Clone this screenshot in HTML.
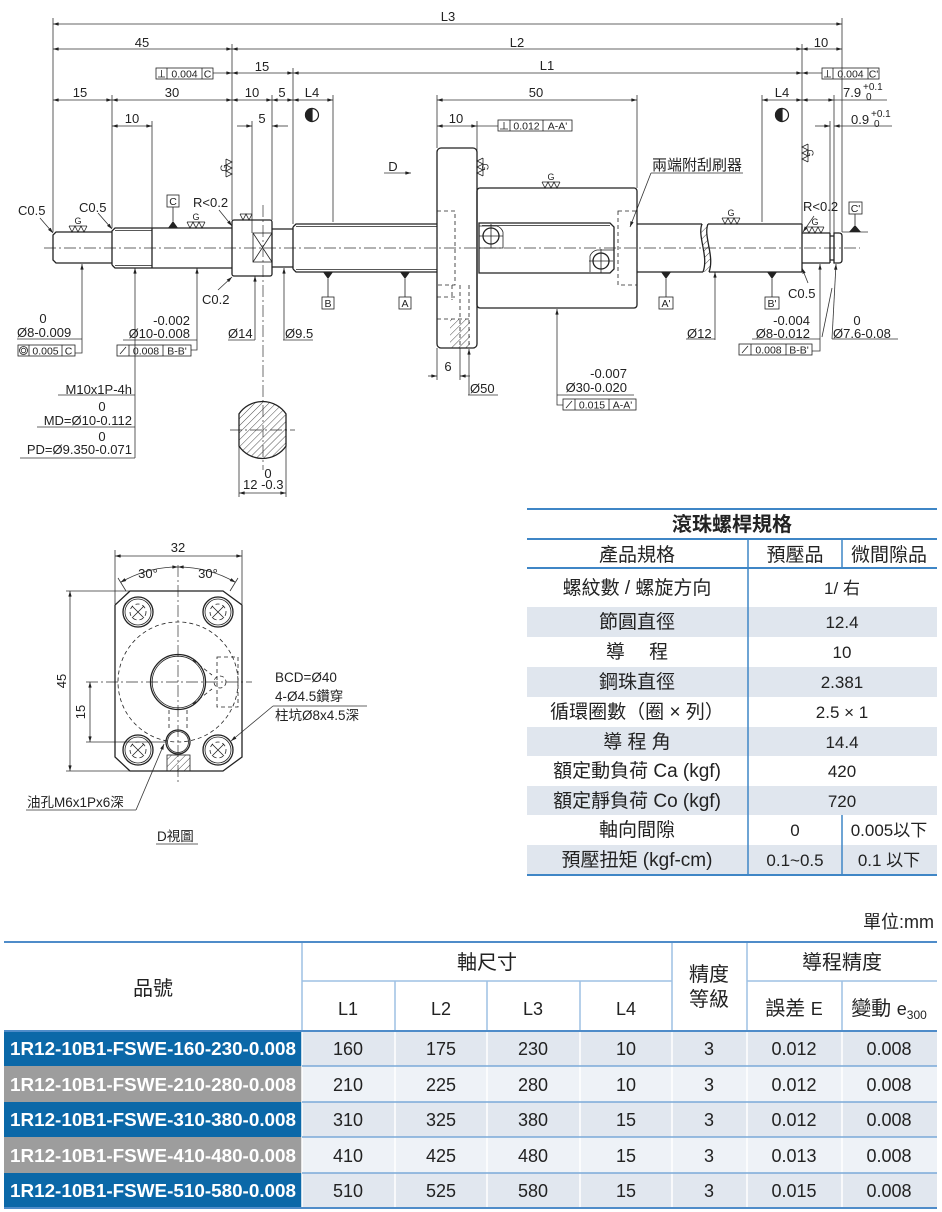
<!DOCTYPE html>
<html><head><meta charset="utf-8"><title>Ball screw drawing</title>
<style>
html,body{margin:0;padding:0;background:#fff;width:942px;height:1212px;overflow:hidden}
svg{display:block}
text{font-family:"Liberation Sans","Noto Sans CJK TC",sans-serif;fill:#222}
</style></head><body>
<svg width="942" height="1212" viewBox="0 0 942 1212" xmlns="http://www.w3.org/2000/svg">
<defs>
<marker id="a" viewBox="0 0 10 6" refX="10" refY="3" markerWidth="7" markerHeight="3.4" orient="auto-start-reverse" markerUnits="userSpaceOnUse"><path d="M0,0L10,3L0,6z" fill="#222"/></marker>
<pattern id="h" width="5" height="5" patternUnits="userSpaceOnUse" patternTransform="rotate(45)"><line x1="0" y1="0" x2="0" y2="5" stroke="#222" stroke-width="0.8"/></pattern>
</defs>

<!-- ================= TOP DRAWING ================= -->
<!-- extension lines -->
<g stroke="#333" stroke-width="0.8" fill="none">
<path d="M53,18V232 M232,44V220 M802,44V233 M842,18V232 M293,68V224 M112,95V228 M152,121V228 M272,95V220 M252,121V233 M333,95V222 M437,95V148 M477,121V150 M637,95V188 M762,95V222 M830,121V236 M834,95V233"/>
<path d="M437,348V380 M460,348V380 M239,440V497 M286,440V497"/>
<path d="M834,100H887 M842,232H868"/>
</g>
<!-- dimension lines both arrows -->
<g stroke="#333" stroke-width="0.8" fill="none" marker-start="url(#a)" marker-end="url(#a)">
<line x1="53" y1="24" x2="842" y2="24"/>
<line x1="53" y1="49" x2="232" y2="49"/>
<line x1="232" y1="49" x2="802" y2="49"/>
<line x1="802" y1="49" x2="842" y2="49"/>
<line x1="232" y1="73" x2="293" y2="73"/>
<line x1="293" y1="73" x2="802" y2="73"/>
<line x1="53" y1="100" x2="112" y2="100"/>
<line x1="112" y1="100" x2="232" y2="100"/>
<line x1="232" y1="100" x2="272" y2="100"/>
<line x1="272" y1="100" x2="293" y2="100"/>
<line x1="293" y1="100" x2="333" y2="100"/>
<line x1="437" y1="100" x2="637" y2="100"/>
<line x1="762" y1="100" x2="802" y2="100"/>
<line x1="802" y1="100" x2="834" y2="100"/>
<line x1="112" y1="126" x2="152" y2="126"/>
<line x1="437" y1="126" x2="477" y2="126"/>
<line x1="239" y1="493" x2="286" y2="493"/>
<line x1="115" y1="556" x2="242" y2="556"/>
<line x1="70" y1="591" x2="70" y2="771"/>
<line x1="90" y1="682" x2="90" y2="742"/>
<path d="M178,567 A115,115 0 0 0 120.5,582.4"/>
<path d="M178,567 A115,115 0 0 1 235.5,582.4"/>
</g>
<!-- single arrows -->
<g stroke="#333" stroke-width="0.8" fill="none" marker-end="url(#a)">
<line x1="213" y1="73" x2="232" y2="73"/>
<line x1="822" y1="73" x2="802" y2="73"/>
<line x1="237" y1="126" x2="252" y2="126"/>
<line x1="288" y1="126" x2="272" y2="126"/>
<line x1="815" y1="126" x2="830" y2="126"/>
<line x1="892" y1="126" x2="834" y2="126"/>
<line x1="428" y1="376" x2="437" y2="376"/>
<line x1="470" y1="376" x2="460" y2="376"/>
<line x1="384" y1="173" x2="411" y2="173"/>
<!-- leaders -->
<path d="M75,353H82V264"/>
<path d="M191,350H197V268"/>
<line x1="135" y1="458" x2="135" y2="268"/>
<line x1="218" y1="290" x2="232" y2="277"/>
<line x1="255" y1="340" x2="255" y2="276"/>
<line x1="284" y1="340" x2="284" y2="268"/>
<line x1="40" y1="218" x2="53" y2="233"/>
<line x1="98" y1="213" x2="112" y2="229"/>
<line x1="219" y1="210" x2="232" y2="226"/>
<line x1="651" y1="173" x2="630" y2="227"/>
<line x1="814" y1="216" x2="803" y2="232"/>
<line x1="808" y1="283" x2="802" y2="268"/>
<path d="M812,351H820V264"/>
<line x1="832" y1="339" x2="836" y2="264"/>
<line x1="715" y1="340" x2="715" y2="272"/>
<path d="M563,405H557V309"/>
<line x1="469" y1="395" x2="469" y2="349"/>
<line x1="273" y1="706" x2="231" y2="741"/>
<line x1="136" y1="810" x2="164" y2="744"/>
</g>
<!-- underlines & connectors -->
<g stroke="#333" stroke-width="0.8" fill="none">
<path d="M477,126H498 M17,339H82 M123,340H197 M58,395H135 M37,427H135 M20,458H135 M228,340H255 M283,340H313"/>
<path d="M651,173H743 M752,339H820 M832,339H898 M686,339H715 M557,395H634 M468,395H498"/>
<path d="M273,706H367 M26,810H136 M156,844H198"/>
<path d="M822,337L832,288"/>
<path d="M115,550V604 M242,550V604 M66,591H130 M66,771H130 M86,742H166"/>
<path d="M118,578L126,591 M238,578L230,591"/>
</g>
<!-- centre lines -->
<g stroke="#333" stroke-width="0.7" fill="none" stroke-dasharray="12 3 2 3">
<path d="M44,248H860"/>
<path d="M263,205V470 M230,430H295"/>
<path d="M178,565V785 M86,682H252"/>
</g>

<!-- shaft outlines -->
<g stroke="#222" stroke-width="1.3" fill="none">
<path d="M112,232H56L53,235V260L56,263H112"/>
<path d="M112,265V231L115,228H232 M112,265L115,268H232 M152,228V268"/>
<rect x="232" y="220" width="40" height="56" rx="2"/>
<path d="M272,229H293 M272,267H293"/>
<path d="M293,227L296,224H437 M293,269L296,272H437 M293,227V269"/>
<rect x="437" y="148" width="40" height="200" rx="4"/>
<rect x="477" y="188" width="160" height="120" rx="3"/>
<path d="M479,223H610L614,227V269L610,273H479Z"/>
<circle cx="491" cy="236" r="8"/>
<circle cx="601" cy="261" r="8"/>
<path d="M637,224H702 M637,272H703 M708,224H802 M709,272H802 M802,224V272"/>
<path d="M702,224C697,236 709,256 703,272 M708,224C703,236 715,256 709,272"/>
<path d="M802,233H830 M802,263H830 M830,233V263 M830,236H834 M830,260H834 M834,233H839Q842,233 842,236V260Q842,263 839,263H834Z"/>
<path d="M239,413.9A28.5,28.5 0 0 1 286,413.9V446.1A28.5,28.5 0 0 1 239,446.1Z" fill="url(#h)"/>
</g>
<g stroke="#222" stroke-width="0.8" fill="none">
<path d="M115,230.5H152 M115,265.5H152 M296,226.5H437 M296,269.5H437 M482,225.5H610"/>
<rect x="253" y="233" width="19" height="29"/>
<path d="M253,233L272,262 M272,233L253,262"/>
<path d="M479,226H497A10,10 0 0 1 503,232V248H479 M614,250H597A10,10 0 0 0 590,256V272"/>
<path d="M479,236H503 M491,224V248 M589,261H613 M601,249V273"/>
<path d="M702,224C697,236 709,256 703,272L709,272C715,256 703,236 708,224Z" fill="url(#h)" stroke="none"/>
<rect x="450" y="319" width="20" height="29" fill="url(#h)" stroke="none"/>
<rect x="167" y="755" width="23" height="16" fill="url(#h)"/>
</g>
<g stroke="#222" stroke-width="0.8" fill="none" stroke-dasharray="4 3">
<rect x="437" y="211" width="18" height="74"/>
<rect x="618" y="211" width="19" height="74"/>
<path d="M437,297H455 M437,319H470 M452,285V300 M460,285V348 M469,285V348"/>
</g>

<!-- datums -->
<g fill="#222">
<path d="M168,228H178L173,221Z M849,232H861L855,225Z M323,272H333L328,279Z M400,272H410L405,279Z M661,272H671L666,279Z M767,272H777L772,279Z"/>
</g>
<g stroke="#222" stroke-width="0.8" fill="none">
<path d="M173,221V207 M855,225V214 M328,279V297 M405,279V297 M666,279V297 M772,279V297"/>
<rect x="167" y="195" width="12" height="12"/>
<rect x="849" y="202" width="13" height="12"/>
<rect x="322" y="297" width="12" height="12"/>
<rect x="399" y="297" width="12" height="12"/>
<rect x="659" y="297" width="14" height="12"/>
<rect x="765" y="297" width="14" height="12"/>
</g>
<g font-size="10.5" text-anchor="middle">
<text x="173" y="205">C</text><text x="855.5" y="212">C'</text>
<text x="328" y="307">B</text><text x="405" y="307">A</text>
<text x="666" y="307">A'</text><text x="772" y="307">B'</text>
</g>

<!-- surface symbols -->
<g stroke="#222" stroke-width="0.8" fill="none">
<path d="M69,226H87 M69,226L72,232L75,226L78,232L81,226L84,232L87,226"/>
<path d="M187,222H205 M187,222L190,228L193,222L196,228L199,222L202,228L205,222"/>
<path d="M240,214H252 M240,214L243,220L246,214L249,220L252,214"/>
<path d="M542,182H560 M542,182L545,188L548,182L551,188L554,182L557,188L560,182"/>
<path d="M722,218H740 M722,218L725,224L728,218L731,224L734,218L737,224L740,218"/>
<path d="M806,227H824 M806,227L809,233L812,227L815,233L818,227L821,233L824,227"/>
<g transform="translate(232,168) rotate(-90)"><path d="M-9,-6H9 M-9,-6L-6,0L-3,-6L0,0L3,-6L6,0L9,-6"/></g>
<g transform="translate(477,167) rotate(90)"><path d="M-9,-6H9 M-9,-6L-6,0L-3,-6L0,0L3,-6L6,0L9,-6"/></g>
<g transform="translate(802,153) rotate(90)"><path d="M-9,-6H9 M-9,-6L-6,0L-3,-6L0,0L3,-6L6,0L9,-6"/></g>
</g>
<g font-size="9" text-anchor="middle">
<text x="78" y="224">G</text><text x="196" y="220">G</text><text x="551" y="180">G</text>
<text x="731" y="216">G</text><text x="815" y="225">G</text>
<text transform="translate(224,168) rotate(-90)" y="3">G</text>
<text transform="translate(485,167) rotate(90)" y="3">G</text>
<text transform="translate(810,153) rotate(90)" y="3">G</text>
</g>

<!-- half circle symbols -->
<g stroke="#222" stroke-width="1.2">
<circle cx="312" cy="115" r="6.5" fill="#fff"/><path d="M312,108.5A6.5,6.5 0 0 0 312,121.5Z" fill="#222"/>
<circle cx="782" cy="115" r="6.5" fill="#fff"/><path d="M782,108.5A6.5,6.5 0 0 0 782,121.5Z" fill="#222"/>
</g>

<!-- GD&T boxes -->
<g stroke="#222" stroke-width="0.8" fill="none">
<rect x="156" y="68" width="57" height="11"/><path d="M167,68V79 M202,68V79 M158,77H165 M161.5,77V70"/>
<rect x="822" y="68" width="57" height="11"/><path d="M833,68V79 M868,68V79 M824,77H831 M827.5,77V70"/>
<rect x="498" y="120" width="74" height="11"/><path d="M510,120V131 M543,120V131 M500,129H508 M504,129V122"/>
<rect x="18" y="345" width="57" height="11"/><path d="M29,345V356 M62,345V356"/><circle cx="23.5" cy="350.5" r="4"/><circle cx="23.5" cy="350.5" r="2.3"/>
<rect x="117" y="345" width="74" height="11"/><path d="M129,345V356 M163,345V356 M120,354L126,347"/>
<rect x="739" y="344" width="73" height="11"/><path d="M751,344V355 M786,344V355 M742,353L748,346"/>
<rect x="563" y="399" width="73" height="11"/><path d="M575,399V410 M609,399V410 M566,408L572,401"/>
</g>
<g font-size="10.5" text-anchor="middle">
<text x="184.5" y="77.5">0.004</text><text x="207.5" y="77.5">C</text>
<text x="850.5" y="77.5">0.004</text><text x="873.5" y="77.5">C'</text>
<text x="526.5" y="129.5">0.012</text><text x="557.5" y="129.5">A-A'</text>
<text x="45.5" y="354.5">0.005</text><text x="68.5" y="354.5">C</text>
<text x="146" y="354.5">0.008</text><text x="177" y="354.5">B-B'</text>
<text x="768.5" y="353.5">0.008</text><text x="799" y="353.5">B-B'</text>
<text x="592" y="408.5">0.015</text><text x="622.5" y="408.5">A-A'</text>
</g>

<!-- drawing labels -->
<g font-size="13" text-anchor="middle">
<text x="448" y="21">L3</text>
<text x="142" y="47">45</text>
<text x="517" y="47">L2</text>
<text x="821" y="47">10</text>
<text x="262" y="71">15</text>
<text x="547" y="70">L1</text>
<text x="80" y="97">15</text>
<text x="172" y="97">30</text>
<text x="252" y="97">10</text>
<text x="282" y="97">5</text>
<text x="312" y="97">L4</text>
<text x="536" y="97">50</text>
<text x="782" y="97">L4</text>
<text x="132" y="123">10</text>
<text x="262" y="123">5</text>
<text x="456" y="123">10</text>
<text x="393" y="171">D</text>
<text x="448" y="371">6</text>
<text x="43" y="323">0</text>
<text x="102" y="411">0</text>
<text x="102" y="441">0</text>
<text x="268" y="478">0</text>
<text x="857" y="325">0</text>
<text x="178" y="552">32</text>
<text x="148" y="578">30°</text>
<text x="208" y="578">30°</text>
</g>
<g font-size="13">
<text x="843" y="97">7.9</text><text x="863" y="90" font-size="10">+0.1</text><text x="866" y="100" font-size="10">0</text>
<text x="851" y="124">0.9</text><text x="871" y="117" font-size="10">+0.1</text><text x="874" y="127" font-size="10">0</text>
<text x="18" y="215">C0.5</text>
<text x="79" y="212">C0.5</text>
<text x="193" y="207">R&lt;0.2</text>
<text x="202" y="304">C0.2</text>
<text x="17" y="337">Ø8-0.009</text>
<text x="190" y="325" text-anchor="end">-0.002</text>
<text x="190" y="338" text-anchor="end">Ø10-0.008</text>
<text x="132" y="394" text-anchor="end">M10x1P-4h</text>
<text x="132" y="425" text-anchor="end">MD=Ø10-0.112</text>
<text x="132" y="454" text-anchor="end">PD=Ø9.350-0.071</text>
<text x="228" y="338">Ø14</text>
<text x="285" y="338">Ø9.5</text>
<text x="243" y="489">12 -0.3</text>
<text x="652" y="170" font-size="15">兩端附刮刷器</text>
<text x="803" y="211">R&lt;0.2</text>
<text x="788" y="298">C0.5</text>
<text x="810" y="325" text-anchor="end">-0.004</text>
<text x="810" y="338" text-anchor="end">Ø8-0.012</text>
<text x="833" y="338">Ø7.6-0.08</text>
<text x="687" y="338">Ø12</text>
<text x="627" y="378" text-anchor="end">-0.007</text>
<text x="627" y="392" text-anchor="end">Ø30-0.020</text>
<text x="470" y="393">Ø50</text>
</g>

<!-- ================= D VIEW ================= -->
<g stroke="#222" stroke-width="1.3" fill="none">
<path d="M130,591H223L242,605V757L223,771H130L115,757V605Z"/>
<circle cx="138" cy="612" r="15"/><circle cx="218" cy="612" r="15"/>
<circle cx="138" cy="750" r="15"/><circle cx="218" cy="750" r="15"/>
<circle cx="178" cy="682" r="27.5"/>
<circle cx="178" cy="742" r="12"/>
</g>
<g stroke="#222" stroke-width="0.8" fill="none">
<circle cx="138" cy="612" r="13"/><circle cx="218" cy="612" r="13"/>
<circle cx="138" cy="750" r="13"/><circle cx="218" cy="750" r="13"/>
<circle cx="178" cy="682" r="25.8"/>
<circle cx="178" cy="742" r="10.5"/>
<path d="M132,606L144,618 M144,606L132,618 M212,606L224,618 M224,606L212,618 M132,744L144,756 M144,744L132,756 M212,744L224,756 M224,744L212,756"/>
</g>
<g stroke="#222" stroke-width="0.8" fill="none" stroke-dasharray="4 3">
<circle cx="178" cy="682" r="60"/>
<circle cx="138" cy="612" r="8"/><circle cx="218" cy="612" r="8"/>
<circle cx="138" cy="750" r="8"/><circle cx="218" cy="750" r="8"/>
<rect x="217" y="657" width="21" height="50"/>
<circle cx="220" cy="682" r="6"/>
<path d="M193,660L212,675 M193,704L212,689 M169,710V731 M187,710V731"/>
</g>
<g font-size="13" text-anchor="middle">
<text transform="translate(66,681) rotate(-90)">45</text>
<text transform="translate(85,712) rotate(-90)">15</text>
</g>
<g font-size="13.5">
<text x="275" y="682">BCD=Ø40</text>
<text x="275" y="701">4-Ø4.5鑽穿</text>
<text x="275" y="720">柱坑Ø8x4.5深</text>
<text x="27" y="807">油孔M6x1Px6深</text>
<text x="157" y="841">D視圖</text>
</g>

<!-- ================= SPEC TABLE ================= -->
<g fill="#e0e6ee">
<rect x="527" y="607" width="410" height="30"/>
<rect x="527" y="667" width="410" height="30"/>
<rect x="527" y="727" width="410" height="29"/>
<rect x="527" y="786" width="410" height="29"/>
<rect x="527" y="845" width="410" height="30"/>
</g>
<path d="M527,509H937 M527,539H937 M527,568H937 M527,875H937" stroke="#3f86c6" stroke-width="2" fill="none"/>
<path d="M748,539V875 M842,539V568 M842,815V875" stroke="#3f86c6" stroke-width="1.5" fill="none"/>
<text x="732" y="531" font-size="20" font-weight="bold" text-anchor="middle">滾珠螺桿規格</text>
<g font-size="19" text-anchor="middle">
<text x="637" y="561">產品規格</text>
<text x="795" y="561">預壓品</text>
<text x="889" y="561">微間隙品</text>
<text x="637" y="594">螺紋數 / 螺旋方向</text>
<text x="637" y="628">節圓直徑</text>
<text x="637" y="658" xml:space="preserve">導　 程</text>
<text x="637" y="688">鋼珠直徑</text>
<text x="637" y="718">循環圈數（圈 × 列）</text>
<text x="637" y="748" xml:space="preserve">導 程 角</text>
<text x="637" y="777">額定動負荷 Ca (kgf)</text>
<text x="637" y="807">額定靜負荷 Co (kgf)</text>
<text x="637" y="836">軸向間隙</text>
<text x="637" y="866">預壓扭矩 (kgf-cm)</text>
</g>
<g font-size="17" text-anchor="middle">
<text x="842" y="594">1/ 右</text>
<text x="842" y="628">12.4</text>
<text x="842" y="658">10</text>
<text x="842" y="688">2.381</text>
<text x="842" y="718">2.5 × 1</text>
<text x="842" y="748">14.4</text>
<text x="842" y="777">420</text>
<text x="842" y="807">720</text>
<text x="795" y="836">0</text>
<text x="889" y="836">0.005以下</text>
<text x="795" y="866">0.1~0.5</text>
<text x="889" y="866">0.1 以下</text>
</g>

<!-- ================= BOTTOM TABLE ================= -->
<text x="934" y="928" font-size="18" text-anchor="end">單位:mm</text>
<g>
<rect x="4" y="1031" width="298" height="35" fill="#0b68a8"/>
<rect x="4" y="1066" width="298" height="36" fill="#9d9d9d"/>
<rect x="4" y="1102" width="298" height="35" fill="#0b68a8"/>
<rect x="4" y="1137" width="298" height="36" fill="#9d9d9d"/>
<rect x="4" y="1173" width="298" height="35" fill="#0b68a8"/>
<rect x="302" y="1031" width="635" height="35" fill="#e1e7ef"/>
<rect x="302" y="1066" width="635" height="36" fill="#eef2f7"/>
<rect x="302" y="1102" width="635" height="35" fill="#e1e7ef"/>
<rect x="302" y="1137" width="635" height="36" fill="#eef2f7"/>
<rect x="302" y="1173" width="635" height="35" fill="#e1e7ef"/>
</g>
<path d="M302,1031V1208 M395,1031V1208 M487,1031V1208 M580,1031V1208 M672,1031V1208 M747,1031V1208 M842,1031V1208" stroke="#fff" stroke-width="1.5"/>
<path d="M302,1066H937 M302,1102H937 M302,1137H937 M302,1173H937" stroke="#7aa9d8" stroke-width="1.5"/>
<path d="M302,942V1031 M672,942V1031 M747,942V1031 M395,981V1031 M487,981V1031 M580,981V1031 M842,981V1031 M302,981H672 M747,981H937" stroke="#9dc0e4" stroke-width="1.5" fill="none"/>
<path d="M4,942H937 M4,1031H937 M4,1208H937" stroke="#4f8cc9" stroke-width="2" fill="none"/>
<g font-size="20" text-anchor="middle">
<text x="153" y="995">品號</text>
<text x="487" y="969">軸尺寸</text>
<text x="842" y="969">導程精度</text>
<text x="709" y="981">精度</text>
<text x="709" y="1006">等級</text>
<text x="794" y="1015">誤差 <tspan font-size="18">E</tspan></text>
<text x="889" y="1015">變動 <tspan font-size="18">e</tspan><tspan font-size="12" dy="4">300</tspan></text>
</g>
<g font-size="18" text-anchor="middle">
<text x="348" y="1015">L1</text><text x="441" y="1015">L2</text><text x="533" y="1015">L3</text><text x="626" y="1015">L4</text>
</g>
<g font-size="18" font-weight="bold" style="fill:#fff">
<text x="10" y="1055" textLength="286" lengthAdjust="spacingAndGlyphs" style="fill:#fff">1R12-10B1-FSWE-160-230-0.008</text>
<text x="10" y="1091" textLength="286" lengthAdjust="spacingAndGlyphs" style="fill:#fff">1R12-10B1-FSWE-210-280-0.008</text>
<text x="10" y="1126" textLength="286" lengthAdjust="spacingAndGlyphs" style="fill:#fff">1R12-10B1-FSWE-310-380-0.008</text>
<text x="10" y="1162" textLength="286" lengthAdjust="spacingAndGlyphs" style="fill:#fff">1R12-10B1-FSWE-410-480-0.008</text>
<text x="10" y="1197" textLength="286" lengthAdjust="spacingAndGlyphs" style="fill:#fff">1R12-10B1-FSWE-510-580-0.008</text>
</g>
<g font-size="18" text-anchor="middle">
<text x="348" y="1055">160</text><text x="441" y="1055">175</text><text x="533" y="1055">230</text><text x="626" y="1055">10</text><text x="709" y="1055">3</text><text x="794" y="1055">0.012</text><text x="889" y="1055">0.008</text>
<text x="348" y="1091">210</text><text x="441" y="1091">225</text><text x="533" y="1091">280</text><text x="626" y="1091">10</text><text x="709" y="1091">3</text><text x="794" y="1091">0.012</text><text x="889" y="1091">0.008</text>
<text x="348" y="1126">310</text><text x="441" y="1126">325</text><text x="533" y="1126">380</text><text x="626" y="1126">15</text><text x="709" y="1126">3</text><text x="794" y="1126">0.012</text><text x="889" y="1126">0.008</text>
<text x="348" y="1162">410</text><text x="441" y="1162">425</text><text x="533" y="1162">480</text><text x="626" y="1162">15</text><text x="709" y="1162">3</text><text x="794" y="1162">0.013</text><text x="889" y="1162">0.008</text>
<text x="348" y="1197">510</text><text x="441" y="1197">525</text><text x="533" y="1197">580</text><text x="626" y="1197">15</text><text x="709" y="1197">3</text><text x="794" y="1197">0.015</text><text x="889" y="1197">0.008</text>
</g>
</svg>
</body></html>
